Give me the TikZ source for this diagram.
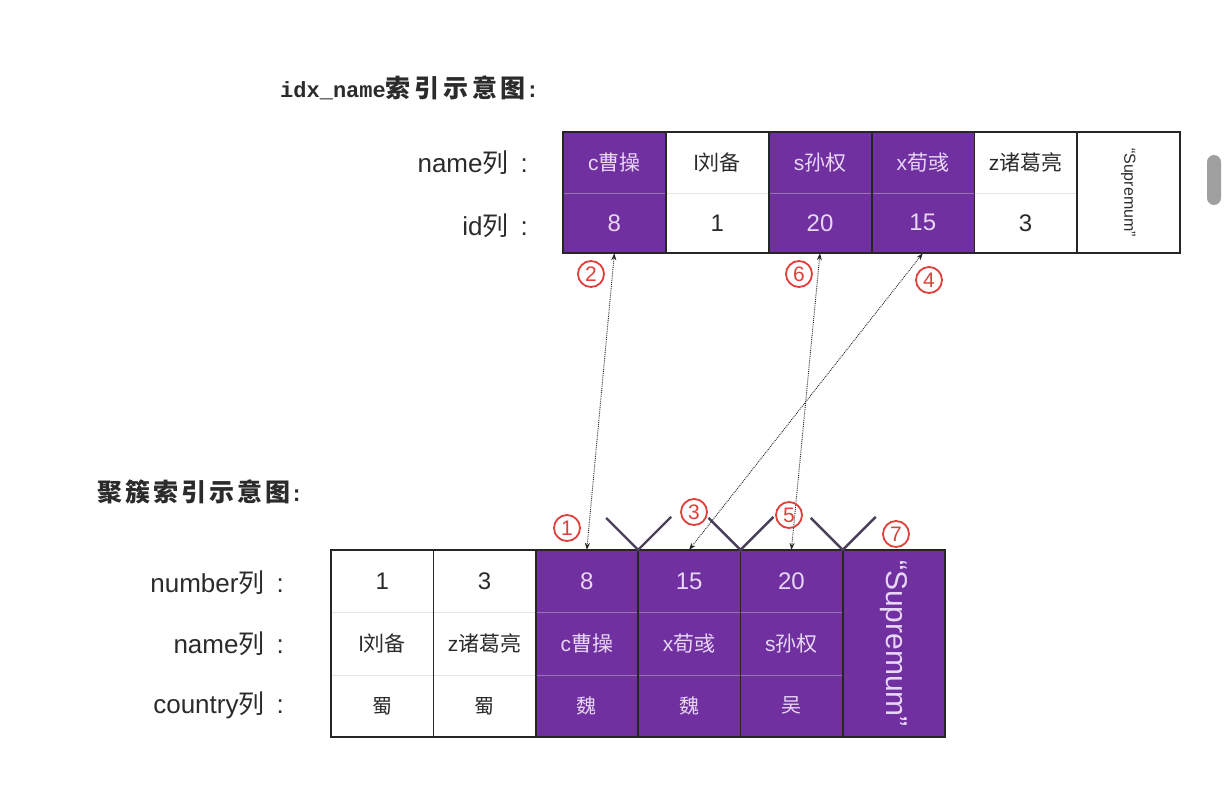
\documentclass[tikz,border=0pt]{standalone}
\usepackage{fontspec}
\setmainfont{Liberation Sans}
\newfontfamily\cjk{Noto Sans CJK SC}
\newfontfamily\mono{Liberation Mono}
\usepackage{tikz}
\usetikzlibrary{calc,arrows.meta,positioning}
\definecolor{purc}{HTML}{7030A0}
\definecolor{lavc}{HTML}{E8D6F7}
\definecolor{inkc}{HTML}{2B2B2B}
\definecolor{redc}{HTML}{E0403A}
\definecolor{veec}{HTML}{4B3F5C}
\tikzset{
  cellw/.style={rectangle,fill=white,text=inkc,minimum width=102.8pt,minimum height=60.5pt,inner sep=0pt,font=\fontsize{24}{28}\selectfont},
  cellp/.style={cellw,fill=purc,text=lavc},
  bot/.style={minimum width=102.3pt,minimum height=62.3pt},
  nm/.style={font=\fontsize{21}{24}\selectfont},
  lab/.style={anchor=east,text=inkc,inner sep=0pt,font=\fontsize{26}{30}\selectfont},
  num/.style={circle,draw=redc,line width=1.8pt,text=redc,minimum size=26pt,inner sep=0pt,font=\fontsize{21}{24}\selectfont},
  ar/.style={{Stealth[length=7pt,width=5pt]}-{Stealth[length=7pt,width=5pt]},densely dotted,line width=0.9pt,black!85},
  vee/.style={veec,line width=2.4pt},
  frm/.style={line width=1.8pt,black!85}
}
\begin{document}
\begin{tikzpicture}[x=1pt,y=-1pt]
\fill[white] (0,0) rectangle (1228,792);
\useasboundingbox (0,0) rectangle (1228,792);
% titles
\node[anchor=west,text=inkc,inner sep=0pt] (ttop) at (280,88) {\mono\bfseries\fontsize{22}{26}\selectfont idx\_name{\cjk\fontsize{25}{28}\selectfont\addfontfeatures{LetterSpace=15}索引示意图}:};
\node[anchor=west,text=inkc,inner sep=0pt] (tbot) at (97,492) {{\cjk\bfseries\fontsize{25}{28}\selectfont\addfontfeatures{LetterSpace=12}聚簇索引示意图}{\mono\bfseries\fontsize{22}{26}\selectfont :}};

% idx_name index
\node[cellp,nm] (tn1) at (614.4,162.3) {c{\cjk 曹操}};
\node[cellw,nm] (tn2) at (717.2,162.3) {l{\cjk 刘备}};
\node[cellp,nm] (tn3) at (820,162.3) {s{\cjk 孙权}};
\node[cellp,nm] (tn4) at (922.8,162.3) {x{\cjk 荀彧}};
\node[cellw,nm] (tn5) at (1025.6,162.3) {z{\cjk 诸葛亮}};
\node[cellp] (ti1) at (614.4,222.8) {8};
\node[cellw] (ti2) at (717.2,222.8) {1};
\node[cellp] (ti3) at (820,222.8) {20};
\node[cellp] (ti4) at (922.8,222.8) {15};
\node[cellw] (ti5) at (1025.6,222.8) {3};
\node[cellw,minimum height=121pt,font=\fontsize{16}{18}\selectfont] (tsup) at (1128.4,192.5) {\rotatebox{-90}{“Supremum”}};
\draw[gray!45,opacity=.45] (tn1.south west) -- (tn5.south east);
\foreach \c in {1,...,5}
  \draw[frm] (tn\c.north east) -- (ti\c.south east);
\draw[frm] (tn1.north west) rectangle (tsup.south east);
\node[lab] (lname) at (528,163) {name{\cjk 列}\hspace{12pt}:};
\node[lab] (lid) at (528,226) {id{\cjk 列}\hspace{12pt}:};

% clustered index
\node[cellw,bot] (bn1) at (382.2,581.2) {1};
\node[cellw,bot] (bn2) at (484.5,581.2) {3};
\node[cellp,bot] (bn3) at (586.8,581.2) {8};
\node[cellp,bot] (bn4) at (689.1,581.2) {15};
\node[cellp,bot] (bn5) at (791.4,581.2) {20};
\node[cellw,bot,nm] (bm1) at (382.2,643.5) {l{\cjk 刘备}};
\node[cellw,bot,nm] (bm2) at (484.5,643.5) {z{\cjk 诸葛亮}};
\node[cellp,bot,nm] (bm3) at (586.8,643.5) {c{\cjk 曹操}};
\node[cellp,bot,nm] (bm4) at (689.1,643.5) {x{\cjk 荀彧}};
\node[cellp,bot,nm] (bm5) at (791.4,643.5) {s{\cjk 孙权}};
\node[cellw,bot,font=\cjk\fontsize{20}{24}\selectfont] (bc1) at (382.2,705.8) {蜀};
\node[cellw,bot,font=\cjk\fontsize{20}{24}\selectfont] (bc2) at (484.5,705.8) {蜀};
\node[cellp,bot,font=\cjk\fontsize{20}{24}\selectfont] (bc3) at (586.8,705.8) {魏};
\node[cellp,bot,font=\cjk\fontsize{20}{24}\selectfont] (bc4) at (689.1,705.8) {魏};
\node[cellp,bot,font=\cjk\fontsize{20}{24}\selectfont] (bc5) at (791.4,705.8) {吴};
\node[cellp,bot,minimum height=187pt,font=\fontsize{30}{34}\selectfont] (bsup) at (893.7,643.5) {\rotatebox{-90}{“Supremum”}};
\draw[gray!45,opacity=.45] (bn1.south west) -- (bn5.south east);
\draw[gray!45,opacity=.45] (bm1.south west) -- (bm5.south east);
\foreach \c in {1,...,5}
  \draw[frm] (bn\c.north east) -- (bc\c.south east);
\draw[frm] (bn1.north west) rectangle (bsup.south east);
\node[lab] (lnum) at (284,583) {number{\cjk 列}\hspace{12pt}:};
\node[lab] (lnm) at (284,644) {name{\cjk 列}\hspace{12pt}:};
\node[lab] (lcty) at (284,705) {country{\cjk 列}\hspace{12pt}:};

% page splits
\draw[vee] (bn3.north east) +(-32,-32) -- (bn3.north east) -- +(33,-33);
\draw[vee] (bn4.north east) +(-32,-32) -- (bn4.north east) -- +(33,-33);
\draw[vee] (bn5.north east) +(-32,-32) -- (bn5.north east) -- +(33,-33);

% lookups
\draw[ar] (ti1.south) -- (bn3.north);
\draw[ar] (ti4.south) -- (bn4.north);
\draw[ar] (ti3.south) -- (bn5.north);
\node[num] (s1) at (567,528) {1};
\node[num] (s2) at (591,274) {2};
\node[num] (s3) at (694,512) {3};
\node[num] (s4) at (929,280) {4};
\node[num] (s5) at (789,515) {5};
\node[num] (s6) at (799,274) {6};
\node[num] (s7) at (896,534) {7};

\fill[gray!75,rounded corners=7pt] (1207,155) rectangle (1221,205);
\end{tikzpicture}
\end{document}
